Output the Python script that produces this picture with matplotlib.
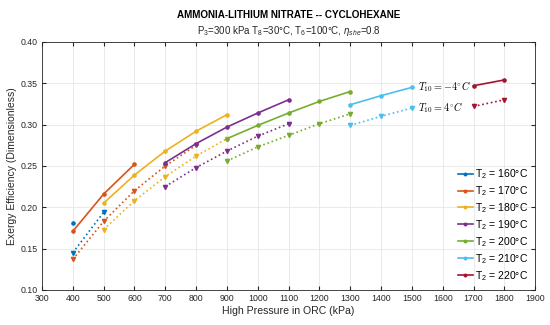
import matplotlib.pyplot as plt

plt.rcParams['font.family'] = ['Liberation Sans', 'DejaVu Sans']
plt.rcParams['mathtext.fontset'] = 'custom'
plt.rcParams['mathtext.rm'] = 'Liberation Sans'
plt.rcParams['mathtext.it'] = 'Liberation Sans:italic'

colors = ['#0072BD', '#D95319', '#EDB120', '#7E2F8E', '#77AC30', '#4DBEEE', '#A2142F']
labels = ['T$_2$ = 160°C', 'T$_2$ = 170°C', 'T$_2$ = 180°C', 'T$_2$ = 190°C',
          'T$_2$ = 200°C', 'T$_2$ = 210°C', 'T$_2$ = 220°C']

# T10 = -4 C (solid)
p_160 = [400]
e_160 = [0.181]
p_170 = [400, 500, 600]
e_170 = [0.171, 0.216, 0.252]
p_180 = [500, 600, 700, 800, 900]
e_180 = [0.205, 0.239, 0.268, 0.292, 0.312]
p_190 = [700, 800, 900, 1000, 1100]
e_190 = [0.254, 0.277, 0.297, 0.314, 0.330]
p_200 = [900, 1000, 1100, 1200, 1300]
e_200 = [0.283, 0.299, 0.314, 0.328, 0.340]
p_210 = [1300, 1400, 1500]
e_210 = [0.324, 0.335, 0.345]
p_220 = [1700, 1800]
e_220 = [0.347, 0.354]

# T10 = 4 C (dotted)
q_160 = [400, 500]
f_160 = [0.145, 0.194]
q_170 = [400, 500, 600, 700, 800]
f_170 = [0.137, 0.183, 0.220, 0.250, 0.275]
q_180 = [500, 600, 700, 800, 900]
f_180 = [0.173, 0.208, 0.237, 0.262, 0.283]
q_190 = [700, 800, 900, 1000, 1100]
f_190 = [0.225, 0.248, 0.268, 0.286, 0.301]
q_200 = [900, 1000, 1100, 1200, 1300]
f_200 = [0.256, 0.273, 0.287, 0.301, 0.313]
q_210 = [1300, 1400, 1500]
f_210 = [0.299, 0.310, 0.320]
q_220 = [1700, 1800]
f_220 = [0.322, 0.330]

solid = [(p_160, e_160), (p_170, e_170), (p_180, e_180), (p_190, e_190),
         (p_200, e_200), (p_210, e_210), (p_220, e_220)]
dotted = [(q_160, f_160), (q_170, f_170), (q_180, f_180), (q_190, f_190),
          (q_200, f_200), (q_210, f_210), (q_220, f_220)]

fig = plt.figure(figsize=(5.5, 3.25), dpi=100)
ax = fig.add_axes([0.0764, 0.108, 0.8966, 0.763])

for i in range(len(colors)):
    x, y = solid[i]
    ax.plot(x, y, '-', marker='o', ms=2.3, lw=1.2, color=colors[i], label=labels[i])
    x, y = dotted[i]
    ax.plot(x, y, ':', marker='v', ms=3, lw=1.2, color=colors[i])

ax.text(1520, 0.3455, r'$T_{10}=-4^{\circ}C$', fontsize=7.4, math_fontfamily='cm', va='center')
ax.text(1520, 0.3205, r'$T_{10}=4^{\circ}C$', fontsize=7.4, math_fontfamily='cm', va='center')

ax.set_xlim(300, 1900)
ax.set_ylim(0.10, 0.40)
ax.set_xticks(range(300, 2000, 100))
ax.set_yticks([0.10, 0.15, 0.20, 0.25, 0.30, 0.35, 0.40])
ax.set_yticklabels(['0.10', '0.15', '0.20', '0.25', '0.30', '0.35', '0.40'])
ax.tick_params(direction='in', top=True, right=True, labelsize=6.3, length=3, pad=3,
               color='#262626', labelcolor='#262626')
ax.grid(True, color='#e6e6e6', lw=0.6)
ax.set_axisbelow(True)
for s in ax.spines.values():
    s.set_color('#262626')
    s.set_linewidth(0.6)

ax.set_xlabel('High Pressure in ORC (kPa)', fontsize=7.6, color='#262626', labelpad=2)
ax.set_ylabel('Exergy Efficiency (Dimensionless)', fontsize=7.5, color='#262626', labelpad=3)

fig.text(0.5247, 0.954, 'AMMONIA-LITHIUM NITRATE -- CYCLOHEXANE', ha='center', va='center',
         fontsize=7.1, fontweight='bold')
fig.text(0.5247, 0.905, r'P$_3$=300 kPa T$_8$=30°C, T$_6$=100°C, $\eta_{she}$=0.8', ha='center', va='center',
         fontsize=7.0, color='#262626')

ax.legend(loc='lower right', fontsize=7.5, frameon=False, handlelength=1.4, handletextpad=0.2,
          labelspacing=0.3, borderaxespad=0.3, markerscale=0.8)

fig.savefig('out.png', dpi=100)
